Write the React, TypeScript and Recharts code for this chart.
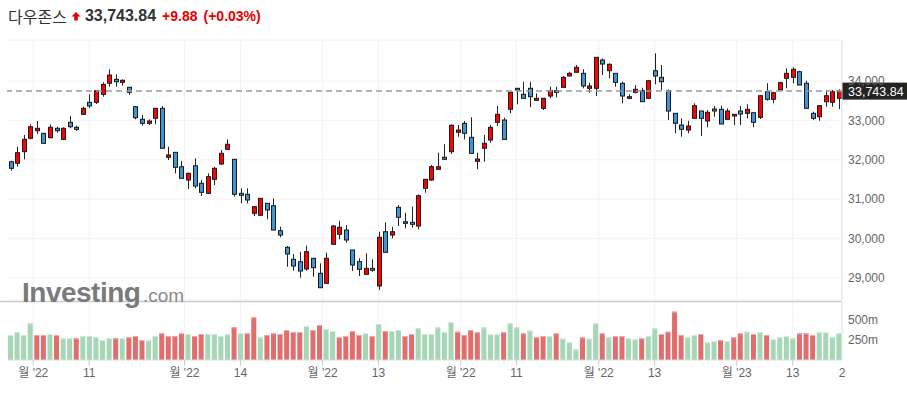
import React from 'react';
import {
  ComposedChart,
  Bar,
  Cell,
  XAxis,
  YAxis,
  CartesianGrid,
  ReferenceLine,
} from 'recharts';

// Dow Jones daily candles, 2022-07-26 .. 2023-01-25
const dates = [
  '7/26', '7/27', '7/28', '7/29',
  '8/1', '8/2', '8/3', '8/4', '8/5', '8/8', '8/9', '8/10', '8/11', '8/12', '8/15', '8/16', '8/17', '8/18', '8/19', '8/22', '8/23', '8/24', '8/25', '8/26', '8/29', '8/30', '8/31',
  '9/1', '9/2', '9/6', '9/7', '9/8', '9/9', '9/12', '9/13', '9/14', '9/15', '9/16', '9/19', '9/20', '9/21', '9/22', '9/23', '9/26', '9/27', '9/28', '9/29', '9/30',
  '10/3', '10/4', '10/5', '10/6', '10/7', '10/10', '10/11', '10/12', '10/13', '10/14', '10/17', '10/18', '10/19', '10/20', '10/21', '10/24', '10/25', '10/26', '10/27', '10/28', '10/31',
  '11/1', '11/2', '11/3', '11/4', '11/7', '11/8', '11/9', '11/10', '11/11', '11/14', '11/15', '11/16', '11/17', '11/18', '11/21', '11/22', '11/23', '11/25', '11/28', '11/29', '11/30',
  '12/1', '12/2', '12/5', '12/6', '12/7', '12/8', '12/9', '12/12', '12/13', '12/14', '12/15', '12/16', '12/19', '12/20', '12/21', '12/22', '12/23', '12/27', '12/28', '12/29', '12/30',
  '1/3', '1/4', '1/5', '1/6', '1/9', '1/10', '1/11', '1/12', '1/13', '1/17', '1/18', '1/19', '1/20', '1/23', '1/24', '1/25',
];

const opens = [
  31952, 31911, 32206, 32546,
  32739, 32673, 32561, 32800, 32520, 32952, 32825, 33155, 33459, 33459, 33662, 33942, 34043, 33967, 33840, 33348, 33028, 32926, 33053, 33307, 32064, 32190, 31825,
  31487, 31850, 31404, 31150, 31505, 31894, 32267, 32013, 31150, 31125, 30642, 30592, 30896, 30835, 30201, 29779, 29475, 29414, 29229, 29500, 29119,
  28866, 29856, 30109, 30218, 29711, 29414, 29094, 29246, 28797, 30175, 30091, 30794, 30429, 30414, 30320, 31277, 31487, 31759, 32064, 32206, 32698,
  32926, 32571, 31962, 32292, 32503, 32952, 33010, 33282, 33815, 33662, 33815, 33510, 33307, 33619, 33754, 33840, 34127, 34221, 34195, 33815, 33815,
  34533, 34261, 34195, 33942, 33561, 33713, 33754, 33561, 34261, 34094, 33754, 33180, 32883, 32756, 33053, 33239, 32985, 33289, 33282, 33028, 33112,
  33239, 33180, 33195, 33079, 33728, 33536, 33772, 34069, 34094, 34236, 33942, 33180, 33094, 33475, 33459, 33561,
];
const highs = [
  31977, 32333, 32630, 32901,
  32985, 32680, 32901, 32840, 32825, 33112, 32866, 33348, 33662, 33772, 33967, 34297, 34170, 34043, 33855, 33366, 33137, 33028, 33310, 33366, 32333, 32195, 31970,
  31675, 32038, 31487, 31657, 31825, 32249, 32520, 32020, 31277, 31277, 30827, 31030, 30900, 31023, 30302, 29812, 29609, 29668, 29820, 29505, 29373,
  29642, 30345, 30454, 30345, 29715, 29500, 29627, 29475, 30175, 30414, 30302, 30853, 30658, 30810, 31125, 31510, 31868, 32180, 32394, 32901, 32883,
  32985, 33079, 32180, 32630, 32883, 33366, 33069, 33720, 33820, 33982, 33982, 33688, 33565, 33855, 33855, 34127, 34236, 34406, 34297, 33957, 34605,
  34576, 34449, 34200, 33982, 33662, 33898, 33830, 34010, 34703, 34406, 33789, 33185, 33053, 32992, 33434, 33245, 33264, 33366, 33373, 33307, 33160,
  33366, 33409, 33200, 33645, 33942, 33728, 33982, 34322, 34348, 34261, 34008, 33221, 33391, 33772, 33772, 33789,
];
const lows = [
  31723, 31825, 32013, 32520,
  32655, 32410, 32546, 32688, 32510, 32800, 32731, 33150, 33307, 33416, 33602, 33855, 33855, 33881, 33645, 33028, 32866, 32883, 32901, 32285, 31995, 31657, 31525,
  31259, 31277, 31081, 31132, 31361, 31868, 32249, 31064, 30896, 30896, 30574, 30585, 30490, 30210, 30033, 29287, 29185, 29008, 29185, 29033, 28745,
  28860, 29850, 29982, 29896, 29178, 29051, 29090, 29160, 28696, 29645, 30008, 30320, 30262, 30277, 30236, 31165, 31462, 31755, 32010, 32147, 32586,
  32520, 32160, 31759, 31952, 32434, 32858, 32515, 33180, 33409, 33555, 33333, 33505, 33264, 33561, 33586, 33835, 34120, 34215, 33815, 33703, 33619,
  34152, 34069, 33855, 33434, 33536, 33688, 33470, 33555, 33916, 33772, 33010, 32673, 32586, 32673, 33050, 32604, 32825, 33094, 32905, 33025, 32883,
  32883, 33053, 32825, 33036, 33500, 33434, 33770, 33815, 33942, 33895, 33289, 33010, 32992, 33348, 33348, 33289,
];
const closes = [
  31784, 32180, 32520, 32840,
  32800, 32419, 32825, 32739, 32800, 32840, 32774, 33307, 33366, 33754, 33916, 34152, 33982, 34018, 33713, 33069, 32926, 32985, 33307, 32292, 32122, 31810, 31531,
  31657, 31335, 31175, 31571, 31784, 32165, 32394, 31125, 31099, 30980, 30810, 31023, 30726, 30218, 30091, 29609, 29305, 29178, 29668, 29262, 28754,
  29500, 30320, 30287, 29965, 29330, 29221, 29246, 29196, 30033, 29652, 30175, 30541, 30388, 30363, 31089, 31505, 31825, 31825, 32013, 32876, 32756,
  32673, 32165, 32020, 32419, 32825, 33155, 32520, 33713, 33772, 33561, 33602, 33561, 33561, 33754, 33713, 34094, 34195, 34348, 33873, 33873, 34601,
  34431, 34424, 33967, 33619, 33602, 33789, 33475, 34008, 34127, 33982, 33239, 32926, 32774, 32858, 33373, 33053, 33206, 33239, 32909, 33239, 33155,
  33162, 33282, 32952, 33627, 33536, 33703, 33957, 34195, 34297, 33898, 33307, 33053, 33373, 33627, 33728, 33743.84,
];

// volume in millions, and direction of the volume bar (1 = up / green, 0 = down / red)
const volumes = [
  313, 346, 313, 458, 313, 313, 325, 313, 271, 271,
  271, 300, 300, 283, 246, 271, 271, 271, 283, 300,
  246, 246, 300, 333, 300, 300, 333, 325, 300, 325,
  325, 325, 300, 325, 408, 333, 333, 533, 283, 313,
  333, 325, 375, 350, 350, 425, 375, 438, 388, 363,
  283, 300, 363, 313, 333, 300, 450, 363, 363, 375,
  300, 325, 396, 325, 325, 408, 350, 475, 354, 313,
  375, 346, 408, 321, 321, 346, 458, 408, 333, 367,
  283, 300, 300, 333, 267, 221, 133, 283, 267, 458,
  333, 283, 300, 300, 271, 258, 271, 300, 396, 325,
  354, 604, 313, 283, 313, 325, 221, 233, 250, 233,
  283, 333, 354, 325, 346, 313, 258, 283, 300, 271,
  333, 333, 313, 346, 346, 283, 333,
];
const volUp = [
  1, 1, 1, 1, 0, 0, 1, 0, 1, 1,
  0, 1, 1, 1, 1, 1, 0, 1, 0, 0,
  0, 1, 1, 0, 0, 0, 0, 1, 0, 0,
  1, 1, 1, 1, 0, 1, 0, 0, 1, 0,
  0, 0, 0, 0, 0, 1, 0, 0, 1, 1,
  0, 0, 0, 0, 1, 0, 1, 0, 1, 1,
  0, 0, 1, 1, 1, 1, 1, 1, 0, 0,
  0, 0, 1, 1, 1, 0, 1, 1, 0, 1,
  0, 0, 1, 0, 1, 1, 1, 0, 1, 1,
  0, 1, 0, 0, 1, 1, 0, 1, 1, 0,
  0, 0, 0, 1, 1, 0, 1, 1, 0, 1,
  0, 0, 1, 0, 1, 0, 1, 1, 1, 1,
  0, 0, 0, 1, 1, 1, 1,
];

const priceTicks = [29000, 30000, 31000, 32000, 33000, 34000];
const volTicks = [250, 500];

// x axis labels; month labels sit on the boundary before the first session
const xTicks = [
  { d: '8/1', label: "월 '22", month: true },
  { d: '8/11', label: '11' },
  { d: '9/1', label: "월 '22", month: true },
  { d: '9/14', label: '14' },
  { d: '10/3', label: "월 '22", month: true },
  { d: '10/13', label: '13' },
  { d: '11/1', label: "월 '22", month: true },
  { d: '11/11', label: '11' },
  { d: '12/1', label: "월 '22", month: true },
  { d: '12/13', label: '13' },
  { d: '1/3', label: "월 '23", month: true },
  { d: '1/13', label: '13' },
  { d: '1/25', label: '2', edge: true },
];

const LAST = 33743.84;
const FONT = "'Liberation Sans', Arial, 'Noto Sans CJK KR', sans-serif";
const W = 907;
const LEFT = 7;
const AXIS_W = 65;
const PLOT_W = W - LEFT - AXIS_W;
const BAND = PLOT_W / dates.length;

const priceRows = dates.map((d, i) => ({
  d,
  open: opens[i],
  high: highs[i],
  low: lows[i],
  close: closes[i],
}));
const volRows = dates.map((d, i) => ({ d, vol: volumes[i], up: volUp[i] }));

const fmt = (v: number) => v.toLocaleString('en-US');

const gridX = ({ offset }: any) => {
  const left = offset?.left ?? LEFT;
  const bw = (offset?.width ?? PLOT_W) / dates.length;
  return xTicks
    .filter((t) => !t.edge)
    .map((t) => left + (dates.indexOf(t.d) + (t.month ? 0 : 0.5)) * bw);
};

const Candle = (props: any) => {
  const { x, y, width, height, payload } = props;
  if (x == null || !payload) return null;
  const { open, high, low, close } = payload;
  const top = Math.min(y, y + height);
  const h = Math.abs(height);
  const k = high === low ? 0 : h / (high - low);
  const cx = Math.round(x + width / 2) + 0.5;
  const bTop = top + (high - Math.max(open, close)) * k;
  const bBot = top + (high - Math.min(open, close)) * k;
  const up = close >= open;
  return (
    <g>
      <line x1={cx} x2={cx} y1={top} y2={top + h} stroke="#222" strokeWidth={1} />
      <rect
        x={cx - 2}
        y={bTop}
        width={4}
        height={Math.max(1, bBot - bTop)}
        fill={up ? '#ff0000' : '#3e96d8'}
        stroke="#1a1a1a"
        strokeWidth={1}
      />
    </g>
  );
};

const VolBar = (props: any) => {
  const { x, y, width, height, payload } = props;
  if (x == null || !payload) return null;
  const fill = payload.up ? '#a5d6b5' : '#e06e6e';
  const cap = payload.up ? '#cfeadb' : '#f1a9a9';
  return (
    <g>
      <rect x={x} y={y} width={width} height={height} fill={fill} />
      <rect x={x} y={y} width={width} height={1} fill={cap} />
    </g>
  );
};

const XTick = (props: any) => {
  const { x, y, payload } = props;
  const t = xTicks.find((k) => k.d === payload.value);
  if (!t) return null;
  if (t.edge) {
    return (
      <text x={x} y={y + 17} fontSize={12} fill="#666" fontFamily={FONT}>
        {t.label}
      </text>
    );
  }
  const tx = t.month ? x - BAND / 2 : x;
  return (
    <g>
      <line x1={tx} x2={tx} y1={y} y2={y + 6} stroke="#ccc" />
      <text x={tx} y={y + 17} fontSize={12} fill="#666" textAnchor="middle" fontFamily={FONT}>
        {t.label}
      </text>
    </g>
  );
};

const PriceTag = (props: any) => {
  const vb = props.viewBox || {};
  const bx = (vb.x ?? LEFT) + (vb.width ?? PLOT_W);
  return (
    <g>
      <rect x={bx} y={vb.y - 8.5} width={AXIS_W} height={17} fill="#232323" />
      <text x={bx + 6} y={vb.y + 4.5} fill="#fff" fontSize={12.5} fontFamily={FONT}>
        {fmt(LAST)}
      </text>
    </g>
  );
};

const Header = () => (
  <div
    style={{
      position: 'absolute',
      left: 8,
      top: 6,
      height: 20,
      display: 'flex',
      alignItems: 'center',
      whiteSpace: 'nowrap',
      fontFamily: FONT,
    }}
  >
    <span style={{ fontSize: 16, color: '#333', fontFamily: "'Noto Sans CJK KR', sans-serif" }}>다우존스</span>
    <svg width={10} height={10} style={{ marginLeft: 4 }}>
      <polygon points="5,1 9.5,5.5 6.8,5.5 6.8,9.5 3.2,9.5 3.2,5.5 0.5,5.5" fill="#e00000" />
    </svg>
    <span style={{ fontSize: 16, fontWeight: 'bold', color: '#333', marginLeft: 4 }}>{fmt(LAST)}</span>
    <span style={{ fontSize: 14, fontWeight: 'bold', color: '#e60000', marginLeft: 6 }}>+9.88</span>
    <span style={{ fontSize: 14, fontWeight: 'bold', color: '#e60000', marginLeft: 6 }}>(+0.03%)</span>
  </div>
);

export default function App() {
  return (
    <div
      style={{
        position: 'absolute',
        left: 0,
        top: 0,
        width: W,
        height: 397,
        background: '#fff',
        overflow: 'hidden',
        fontFamily: FONT,
      }}
    >
      <Header />

      <div style={{ position: 'absolute', left: 0, top: 0 }}>
        <ComposedChart width={W} height={300} data={priceRows} margin={{ top: 40, right: 0, bottom: 0, left: LEFT }}>
          <CartesianGrid stroke="#f2f2f2" verticalCoordinatesGenerator={gridX} />
          <XAxis dataKey="d" hide />
          <YAxis
            orientation="right"
            width={AXIS_W}
            domain={[28442, 35041]}
            allowDataOverflow
            ticks={priceTicks}
            tickFormatter={fmt}
            tickLine={false}
            tickSize={0}
            tickMargin={6}
            axisLine={{ stroke: '#ddd' }}
            tick={{ fill: '#666', fontSize: 12, fontFamily: FONT }}
          />
          <ReferenceLine
            y={LAST}
            stroke="#9a9a9a"
            strokeWidth={1.5}
            strokeDasharray="6 4"
            ifOverflow="visible"
            label={<PriceTag />}
          />
          <Bar
            dataKey={(r: any) => [r.low, r.high]}
            barSize={5}
            shape={(p: any) => <Candle {...p} />}
            isAnimationActive={false}
          />
        </ComposedChart>
      </div>

      <div style={{ position: 'absolute', left: 0, top: 300 }}>
        <ComposedChart width={W} height={97} data={volRows} margin={{ top: 2, right: 0, bottom: 0, left: LEFT }}>
          <CartesianGrid stroke="#f2f2f2" horizontal={false} verticalCoordinatesGenerator={gridX} />
          <XAxis
            dataKey="d"
            height={37}
            ticks={xTicks.map((t) => t.d)}
            interval={0}
            tick={<XTick />}
            tickLine={false}
            tickSize={0}
            tickMargin={0}
            axisLine={{ stroke: '#ddd' }}
          />
          <YAxis
            orientation="right"
            width={AXIS_W}
            domain={[0, 725]}
            allowDataOverflow
            ticks={volTicks}
            tickFormatter={(v: number) => `${v}m`}
            tickLine={false}
            tickSize={0}
            tickMargin={6}
            axisLine={{ stroke: '#ddd' }}
            tick={{ fill: '#666', fontSize: 12, fontFamily: FONT }}
          />
          <Bar dataKey="vol" barSize={5} shape={(p: any) => <VolBar {...p} />} isAnimationActive={false}>
            {volRows.map((r, i) => (
              <Cell key={i} fill={r.up ? '#a5d6b5' : '#e06e6e'} />
            ))}
          </Bar>
        </ComposedChart>
      </div>

      <svg width={W} height={397} style={{ position: 'absolute', left: 0, top: 0, pointerEvents: 'none' }}>
        <line x1={0} x2={LEFT + PLOT_W} y1={301.5} y2={301.5} stroke="#c9c9c9" strokeWidth={1.5} />
        <text x={22} y={302} fontSize={28} fontWeight="bold" fill="#7a7a7a" fontFamily={FONT} letterSpacing={-0.5}>
          Investing
        </text>
        <text x={143} y={302} fontSize={19} fill="#8a8a8a" fontFamily={FONT}>
          .com
        </text>
      </svg>
    </div>
  );
}
